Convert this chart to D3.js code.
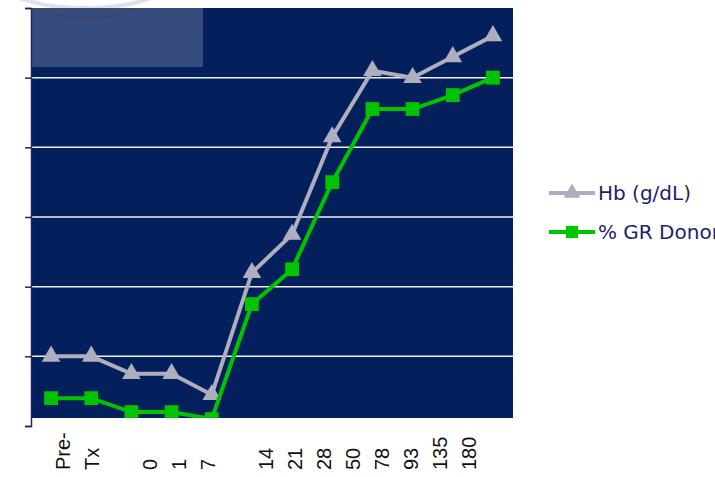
<!DOCTYPE html>
<html>
<head>
<meta charset="utf-8">
<script src="https://cdn.jsdelivr.net/npm/d3@7"></script>
<style>
  body { margin: 0; background: #ffffff; }
  svg { display: block; }
  .x-label { font-family: "Liberation Sans", Arial, sans-serif; font-size: 20px; fill: #111111; }
  .legend-text { font-family: "DejaVu Sans", Verdana, sans-serif; font-size: 20px; fill: #1c1f6e; }
</style>
</head>
<body>
<div id="chart"></div>
<script>
// days after transplant (category axis)
const days = ["Pre-Tx", "0", "1", "7", "14", "21", "28", "50", "78", "93", "135", "180"];
const hb = [8.0, 8.0, 7.5, 7.5, 6.9, 10.4, 11.5, 14.3, 16.2, 16.0, 16.6, 17.2];
const grDonor = [6.8, 6.8, 6.4, 6.4, 6.2, 9.5, 10.5, 13.0, 15.1, 15.1, 15.5, 16.0];
const yTicks = [6, 8, 10, 12, 14, 16, 18];
// the axis text sits in its own text block, one line per label
const xLabelLines = ["Pre-", "Tx", "", "0", "1", "7", "", "14", "21", "28", "50", "78", "93", "135", "180"];
const seriesNames = ["Hb (g/dL)", "% GR Donor"];

const width = 715;
const height = 477;
const plot = { left: 31, right: 513, top: 8, bottom: 426, fillBottom: 418 };

const navy = "#03205c";
const greyLine = "#aeaebe";
const green = "#00c400";

const svg = d3.select("#chart")
  .append("svg")
  .attr("width", width)
  .attr("height", height);

const x = d3.scaleBand()
  .domain(days)
  .range([plot.left, plot.right]);

const y = d3.scaleLinear()
  .domain([6, 18])
  .range([plot.bottom, plot.top]);

const labelX = d3.scaleLinear()
  .domain([0, xLabelLines.length - 1])
  .range([63, 469]);

// decoration peeking over the top of the plot
svg.append("ellipse")
  .attr("cx", 85).attr("cy", -20)
  .attr("rx", 86).attr("ry", 28)
  .attr("fill", "none")
  .attr("stroke", "#dce2ea")
  .attr("stroke-width", 4);

svg.append("rect")
  .attr("x", plot.left)
  .attr("y", plot.top)
  .attr("width", plot.right - plot.left)
  .attr("height", plot.fillBottom - plot.top)
  .attr("fill", navy);

svg.append("clipPath")
  .attr("id", "plot-clip")
  .append("rect")
  .attr("x", plot.left)
  .attr("y", plot.top)
  .attr("width", plot.right - plot.left)
  .attr("height", plot.fillBottom - plot.top);

svg.append("ellipse")
  .attr("clip-path", "url(#plot-clip)")
  .attr("cx", 86).attr("cy", -12)
  .attr("rx", 66).attr("ry", 30)
  .attr("fill", "none")
  .attr("stroke", "#0b1a4c")
  .attr("stroke-width", 4);

svg.append("rect")
  .attr("x", plot.left)
  .attr("y", plot.top)
  .attr("width", 172)
  .attr("height", 59)
  .attr("fill", "#ffffff")
  .attr("opacity", 0.2);

// gridlines
svg.append("g")
  .selectAll("line")
  .data(yTicks.filter((d) => d > 6 && d < 18))
  .enter()
  .append("line")
  .attr("x1", plot.left)
  .attr("x2", plot.right)
  .attr("y1", (d) => y(d))
  .attr("y2", (d) => y(d))
  .attr("stroke", "#eef0f4")
  .attr("stroke-width", 1.5);

// left axis, ticks only
const yAxis = svg.append("g")
  .attr("transform", `translate(${plot.left},0)`)
  .call(d3.axisLeft(y).tickValues(yTicks).tickSize(6).tickFormat(""));
yAxis.selectAll("path, line").attr("stroke", "#1a2470").attr("stroke-width", 1.5);

const px = (i) => x(days[i]) + x.bandwidth() / 2;

const lineGen = d3.line()
  .x((d, i) => px(i))
  .y((d) => y(d));

const series = [
  { name: seriesNames[0], values: hb, color: greyLine, marker: d3.symbolTriangle, size: 150 },
  { name: seriesNames[1], values: grDonor, color: green, marker: d3.symbolSquare, size: 190 }
];

const marks = svg.append("g").attr("clip-path", "url(#plot-clip)");

series.forEach((s) => {
  marks.append("path")
    .datum(s.values)
    .attr("d", lineGen)
    .attr("fill", "none")
    .attr("stroke", s.color)
    .attr("stroke-width", 4);

  marks.selectAll(null)
    .data(s.values)
    .enter()
    .append("path")
    .attr("d", d3.symbol().type(s.marker).size(s.size))
    .attr("transform", (d, i) => `translate(${px(i)},${y(d)})`)
    .attr("fill", s.color);
});

// x labels, rotated
svg.append("g")
  .selectAll("text")
  .data(xLabelLines)
  .enter()
  .append("text")
  .attr("class", "x-label")
  .attr("transform", (d, i) => `translate(${labelX(i)},470) rotate(-90)`)
  .attr("dy", "0.36em")
  .text((d) => d);

// legend
const legend = svg.append("g");
series.forEach((s, i) => {
  const ly = 193 + i * 39;
  legend.append("line")
    .attr("x1", 549).attr("x2", 595)
    .attr("y1", ly).attr("y2", ly)
    .attr("stroke", s.color)
    .attr("stroke-width", 4);
  legend.append("path")
    .attr("d", d3.symbol().type(s.marker).size(s.size * 0.8))
    .attr("transform", `translate(572,${ly})`)
    .attr("fill", s.color);
  legend.append("text")
    .attr("class", "legend-text")
    .attr("x", 598)
    .attr("y", ly)
    .attr("dy", "0.36em")
    .text(s.name);
});
</script>
</body>
</html>
